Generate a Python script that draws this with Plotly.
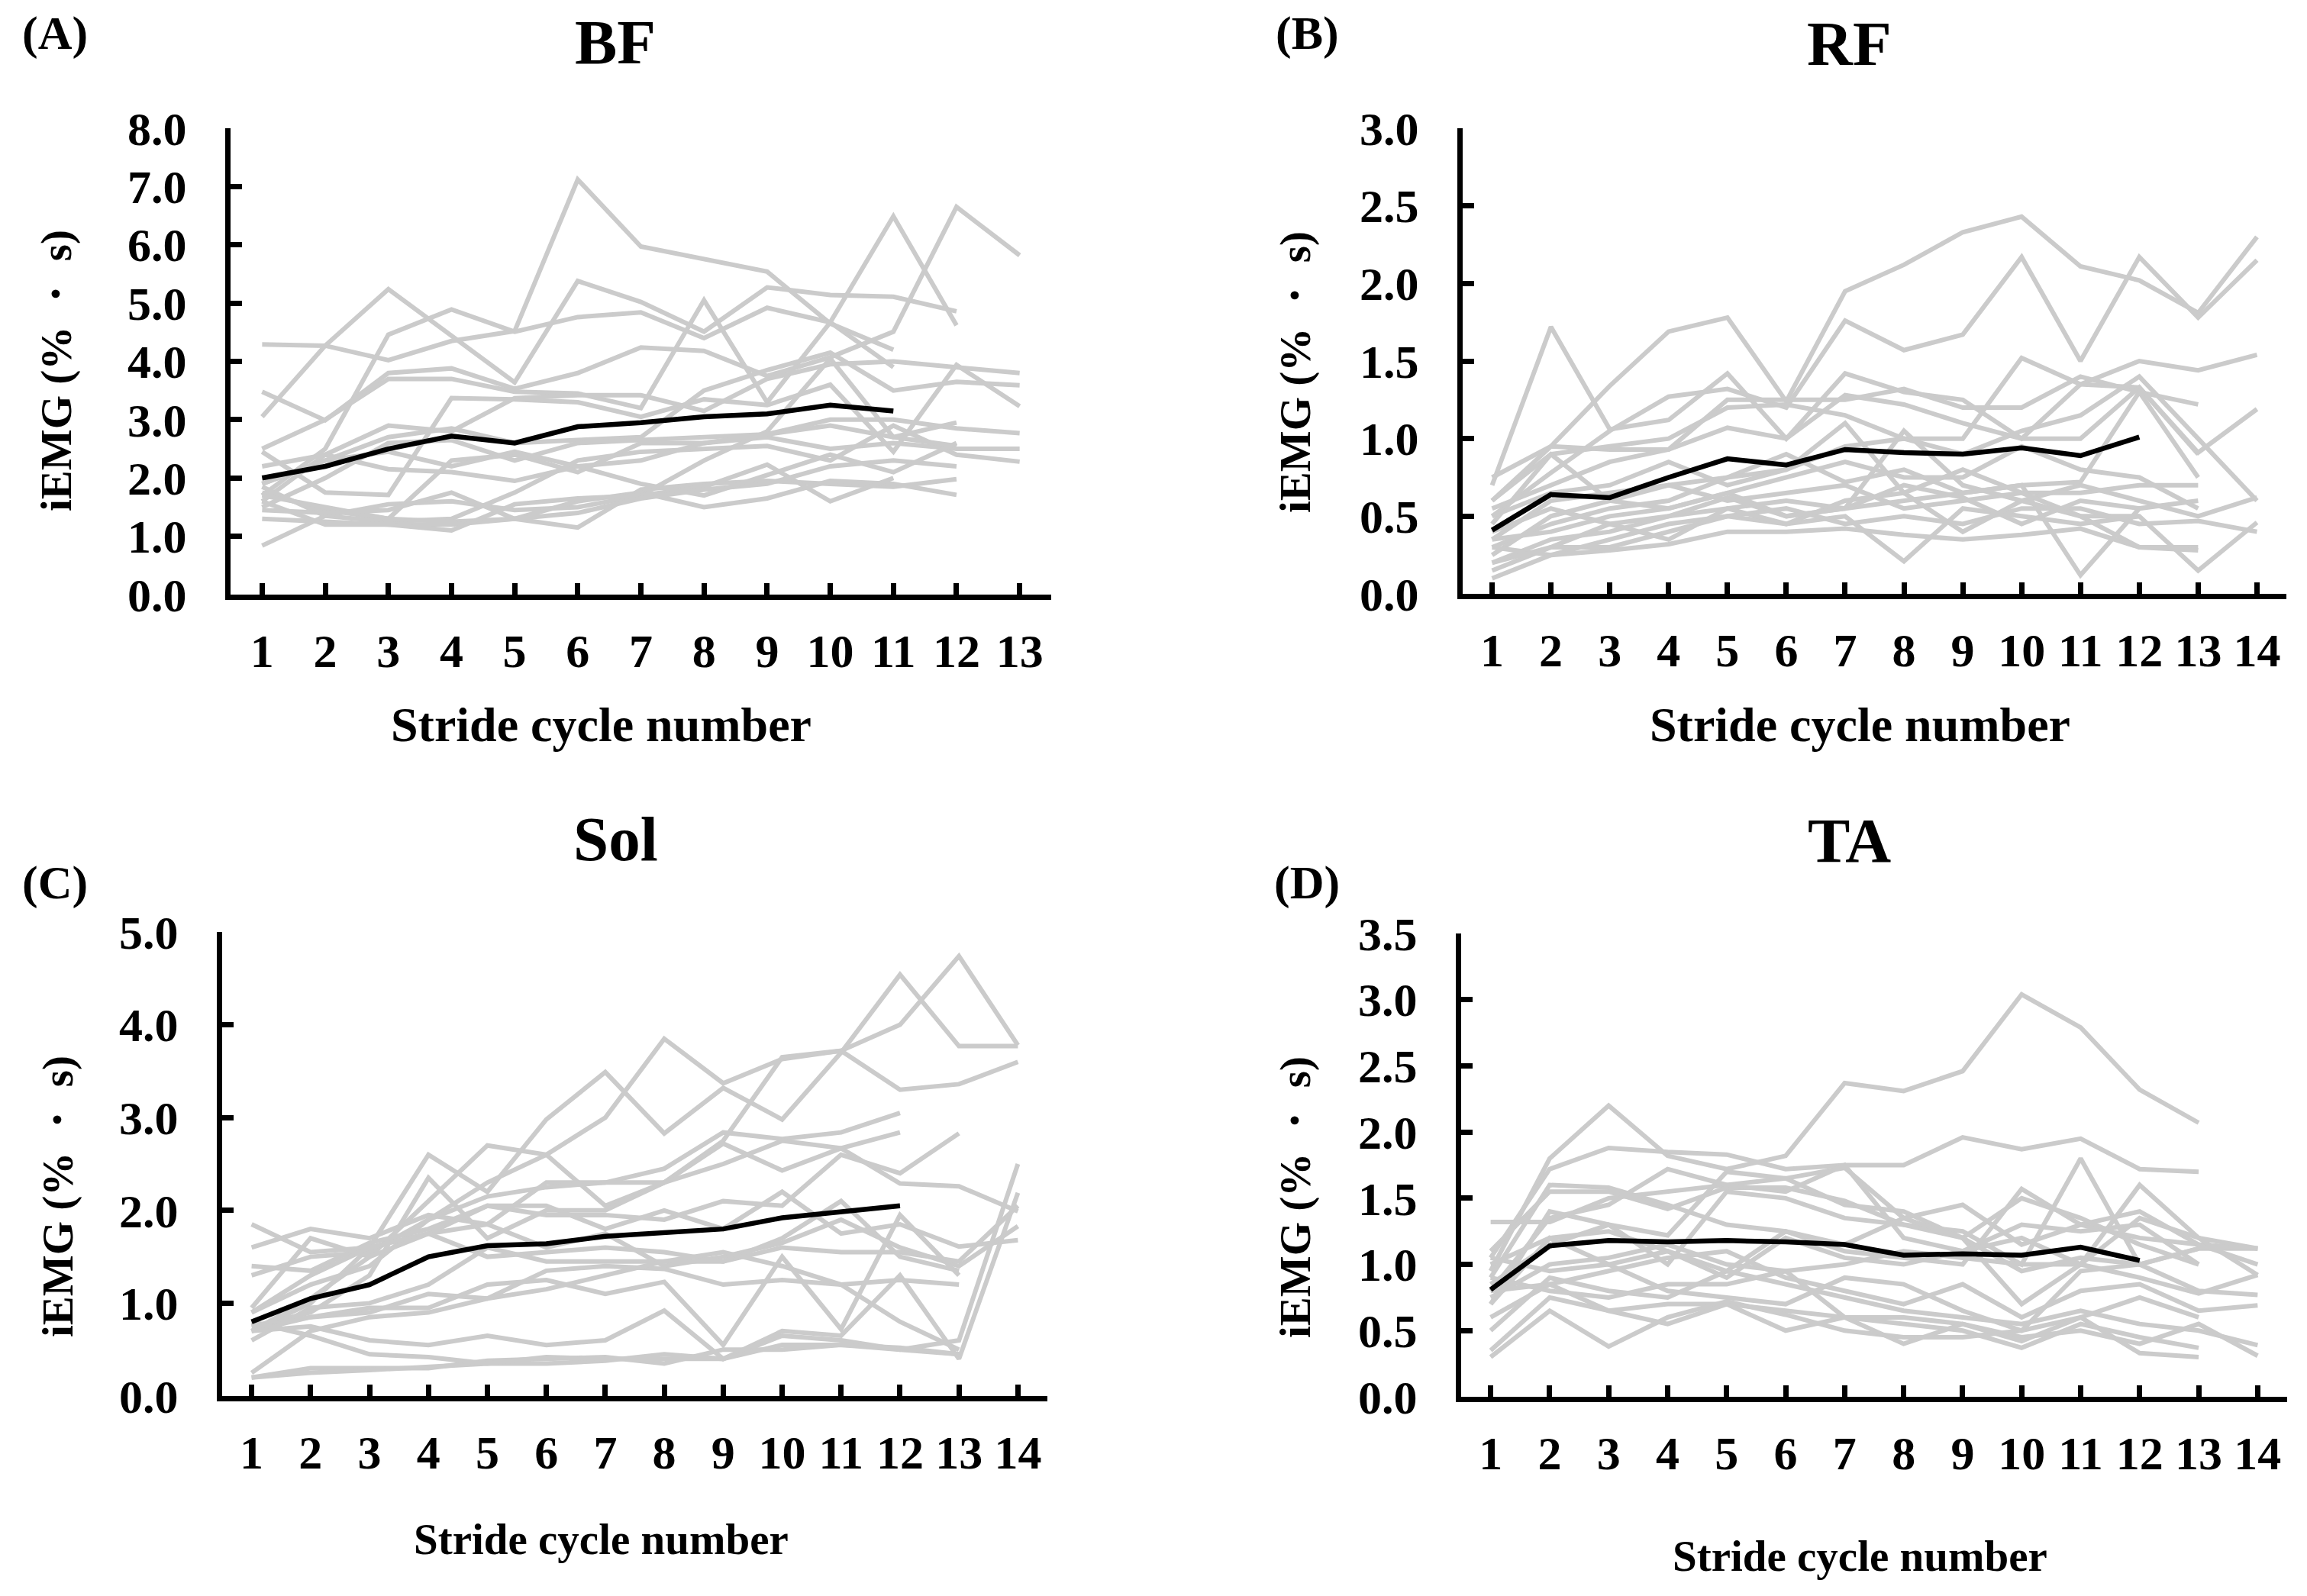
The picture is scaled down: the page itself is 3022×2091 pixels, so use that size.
import plotly.graph_objects as go

W, H = 3022, 2091
GRAY = '#cbcbcb'
FONT = 'Liberation Serif'

# ---------------- data ----------------
stride_cycles_13 = list(range(1, 14))
stride_cycles_14 = list(range(1, 15))

bf_subjects = [
    [4.29, 4.27, 4.02, 4.35, 4.52, 7.12, 5.97, 5.75, 5.54, 4.65, 4.2],
    [3.05, 4.27, 5.24, 4.45, 3.64, 5.38, 5.02, 4.51, 5.27, 5.14, 5.11, 4.86],
    [1.7, 2.5, 4.46, 4.89, 4.51, 4.76, 4.84, 4.4, 4.92, 4.67, 3.9],
    [3.48, 2.99, 3.8, 3.88, 3.53, 3.8, 4.24, 4.18, 3.75, 4.07, 4.51, 6.65, 5.82],
    [2.5, 3.0, 3.7, 3.7, 3.48, 3.45, 3.2, 5.05, 3.3, 4.67, 6.49, 4.62],
    [1.6, 2.4, 2.9, 2.8, 3.37, 3.42, 3.42, 3.15, 3.7, 3.95, 4.0, 3.9, 3.8],
    [2.45, 1.75, 1.71, 3.37, 3.35, 3.3, 3.05, 3.35, 3.25, 3.6, 2.45, 3.94, 3.23],
    [1.9, 2.3, 2.7, 2.85, 2.6, 2.65, 2.7, 3.5, 3.85, 4.15, 3.5, 3.65, 3.59],
    [1.5, 2.0, 2.6, 2.65, 2.3, 2.6, 2.65, 2.7, 2.75, 3.0, 3.0, 2.85, 2.77],
    [1.75, 1.45, 1.3, 2.3, 2.4, 2.1, 2.6, 2.6, 2.7, 2.5, 2.6, 2.5, 2.5],
    [1.85, 1.35, 1.25, 1.3, 1.75, 2.3, 2.45, 2.5, 2.55, 2.3, 2.9, 2.4, 2.28],
    [0.84, 1.35, 1.55, 1.6, 1.45, 1.5, 1.7, 2.3, 2.8, 4.05, 2.7, 2.55],
    [1.7, 1.5, 1.3, 1.25, 1.3, 1.15, 1.8, 1.9, 1.95, 1.9, 1.85, 1.98],
    [1.3, 1.25, 1.2, 1.2, 1.3, 1.6, 1.75, 1.5, 1.65, 1.95, 1.9, 1.71],
    [1.6, 1.2, 1.2, 1.1, 1.55, 1.65, 1.7, 1.85, 2.23, 1.6, 2.0],
    [1.45, 1.4, 1.45, 1.75, 1.3, 1.4, 1.65, 1.8, 1.9, 2.2, 2.3, 2.2],
    [2.2, 2.4, 2.15, 2.1, 1.95, 2.2, 1.9, 1.7, 2.05, 2.4, 2.1, 2.6],
    [1.9, 2.3, 2.45, 2.2, 2.45, 2.2, 2.3, 2.6, 2.75, 2.9, 2.7, 2.95],
]
bf_mean = [2.0, 2.2, 2.5, 2.72, 2.6, 2.88, 2.95, 3.05, 3.1, 3.25, 3.15]

rf_subjects = [
    [0.6, 0.95, 1.34, 1.69, 1.78, 1.24, 1.95, 2.12, 2.33, 2.43, 2.11, 2.02, 1.81, 2.3],
    [0.5, 0.78, 1.05, 1.27, 1.32, 1.2, 1.76, 1.57, 1.67, 2.17, 1.5, 2.17, 1.78, 2.15],
    [0.7, 1.72, 1.06, 1.12, 1.42, 1.0, 1.42, 1.3, 1.25, 1.0, 1.35, 1.5, 1.44, 1.54],
    [0.75, 0.95, 0.93, 0.93, 1.25, 1.25, 1.25, 1.32, 1.2, 1.2, 1.4, 1.3, 1.22],
    [0.45, 0.9, 0.95, 1.0, 1.2, 1.22, 1.15, 1.0, 1.0, 1.52, 1.35, 1.33, 0.9],
    [0.55, 0.7, 0.85, 0.93, 1.07, 1.0, 1.28, 1.22, 1.1, 1.0, 1.0, 1.33, 0.91, 1.19],
    [0.35, 0.6, 0.65, 0.7, 0.75, 0.8, 0.95, 1.0, 0.9, 1.05, 1.15, 1.4, 1.0, 0.6],
    [0.3, 0.45, 0.55, 0.6, 0.75, 0.9, 0.72, 0.8, 0.65, 0.7, 0.72, 1.3, 0.75],
    [0.25, 0.5, 0.6, 0.7, 0.6, 0.65, 0.7, 0.55, 0.6, 0.65, 0.65, 0.7, 0.7],
    [0.2, 0.35, 0.4, 0.5, 0.55, 0.6, 0.55, 0.6, 0.65, 0.7, 0.12, 0.55, 0.6],
    [0.15, 0.3, 0.3, 0.4, 0.5, 0.45, 0.5, 0.21, 0.55, 0.5, 0.45, 0.5, 0.15, 0.46],
    [0.3, 0.25, 0.35, 0.45, 0.5, 0.55, 0.45, 0.5, 0.45, 0.55, 0.55, 0.45, 0.47, 0.4],
    [0.4, 0.55, 0.45, 0.35, 0.55, 0.45, 0.6, 0.65, 0.4, 0.6, 0.7, 0.6, 0.5, 0.62],
    [0.6, 0.9, 0.6, 0.55, 0.65, 0.75, 0.85, 0.75, 0.75, 0.95, 0.8, 0.75, 0.55],
    [0.1, 0.25, 0.28, 0.32, 0.4, 0.4, 0.42, 0.38, 0.35, 0.38, 0.42, 0.3, 0.3],
    [0.2, 0.3, 0.45, 0.5, 0.62, 0.5, 0.55, 0.7, 0.62, 0.45, 0.6, 0.55],
    [0.5, 0.65, 0.7, 0.85, 0.7, 0.8, 1.1, 0.65, 0.8, 0.65, 0.5, 0.5],
    [0.35, 0.4, 0.5, 0.55, 0.65, 0.5, 0.55, 1.05, 0.7, 0.6, 0.5, 0.3, 0.28],
]
rf_mean = [0.41, 0.64, 0.62, 0.75, 0.87, 0.83, 0.93, 0.91, 0.9, 0.94, 0.89, 1.01]

sol_subjects = [
    [0.7, 1.0, 1.6, 2.6, 2.2, 2.98, 3.49, 2.83, 3.32, 2.98, 3.7, 4.54, 3.77, 3.77],
    [0.9, 1.2, 1.4, 1.9, 2.3, 2.6, 3.0, 3.85, 3.37, 3.63, 3.72, 4.0, 4.74, 3.78],
    [0.7, 1.05, 1.5, 2.1, 2.7, 2.6, 2.05, 2.3, 2.75, 3.65, 3.72, 3.3, 3.36, 3.6],
    [1.6, 1.8, 1.7, 1.95, 1.85, 2.3, 2.3, 2.45, 2.84, 2.77, 2.84, 3.05],
    [0.75, 0.9, 1.3, 2.35, 1.7, 2.0, 2.0, 2.3, 2.72, 2.43, 2.67, 2.84],
    [1.3, 1.5, 1.55, 1.9, 2.15, 2.25, 2.3, 2.3, 2.5, 2.75, 2.67, 2.29, 2.26, 1.99],
    [1.85, 1.55, 1.6, 1.75, 2.05, 1.95, 1.95, 1.9, 2.1, 2.05, 2.6, 2.4, 2.83],
    [1.4, 1.35, 1.65, 1.8, 2.05, 2.05, 1.8, 2.0, 1.8, 2.2, 1.75, 1.85, 1.61, 1.68],
    [0.9, 1.3, 1.6, 1.75, 1.85, 1.6, 1.75, 1.4, 1.5, 1.65, 1.9, 1.6, 1.4, 1.83],
    [0.95, 1.7, 1.5, 1.75, 1.5, 1.55, 1.6, 1.55, 1.45, 1.6, 1.55, 1.55, 1.45, 2.05],
    [0.6, 0.95, 1.0, 1.2, 1.6, 1.45, 1.45, 1.45, 1.45, 1.7, 2.1, 1.5, 1.35],
    [0.75, 0.85, 0.9, 1.1, 1.05, 1.35, 1.4, 1.37, 1.2, 1.25, 1.2, 1.25, 1.2],
    [0.7, 0.85, 0.95, 0.95, 1.2, 1.25, 1.1, 1.23, 0.55, 1.5, 0.72, 1.95, 1.3],
    [0.25, 0.7, 0.85, 0.9, 1.05, 1.15, 1.3, 1.45, 1.55, 1.4, 1.2, 0.8, 0.5],
    [0.2, 0.3, 0.3, 0.3, 0.38, 0.4, 0.42, 0.35, 0.5, 0.5, 0.55, 0.52, 0.45],
    [0.2, 0.25, 0.28, 0.32, 0.35, 0.35, 0.38, 0.45, 0.4, 0.65, 0.6, 0.5, 0.6, 2.5],
    [0.7, 0.75, 0.6, 0.55, 0.65, 0.55, 0.6, 0.92, 0.4, 0.7, 0.65, 1.3, 0.4, 2.19],
    [0.8, 0.65, 0.45, 0.42, 0.35, 0.42, 0.4, 0.4, 0.4, 0.55, 0.55, 0.5, 0.45],
]
sol_mean = [0.8, 1.05, 1.2, 1.5, 1.62, 1.64, 1.72, 1.76, 1.8, 1.92, 1.98, 2.05]

ta_subjects = [
    [0.95, 1.8, 2.2, 1.82, 1.72, 1.82, 2.37, 2.31, 2.46, 3.04, 2.79, 2.32, 2.07],
    [1.05, 1.72, 1.88, 1.85, 1.83, 1.72, 1.75, 1.75, 1.96, 1.87, 1.95, 1.72, 1.7],
    [1.32, 1.32, 1.5, 1.55, 1.6, 1.65, 1.73, 1.35, 1.45, 1.15, 1.3, 1.2, 1.15, 1.12],
    [0.9, 1.6, 1.58, 1.45, 1.3, 1.25, 1.1, 1.05, 1.0, 1.57, 1.3, 1.4, 1.15, 1.0],
    [1.1, 1.55, 1.55, 1.42, 1.58, 1.58, 1.48, 1.3, 1.25, 1.0, 1.8, 1.0, 0.8, 0.77],
    [0.7, 1.4, 1.3, 1.22, 1.7, 1.65, 1.45, 1.4, 1.2, 0.7, 1.0, 1.6, 1.2, 0.92],
    [0.8, 1.35, 1.45, 1.72, 1.6, 1.55, 1.75, 1.2, 1.1, 1.3, 1.25, 1.3, 1.0],
    [0.85, 1.15, 1.3, 1.0, 1.55, 1.5, 1.35, 1.3, 1.2, 1.5, 1.35, 1.15, 1.0],
    [1.0, 1.2, 1.25, 1.1, 0.9, 1.2, 1.05, 1.0, 1.1, 1.2, 1.0, 1.35, 1.2, 1.12],
    [0.75, 1.0, 1.05, 1.15, 1.0, 0.95, 1.0, 1.1, 1.05, 1.0, 1.0, 0.9, 0.78, 0.92],
    [0.6, 0.85, 0.95, 1.05, 1.1, 0.9, 0.8, 0.7, 0.85, 0.6, 0.8, 0.85, 0.65, 0.69],
    [0.5, 0.9, 0.8, 0.75, 0.95, 0.85, 0.75, 0.65, 0.6, 0.55, 0.65, 0.55, 0.5, 0.39],
    [0.35, 0.75, 0.65, 0.7, 0.7, 0.65, 0.6, 0.55, 0.5, 0.37, 0.55, 0.45, 0.37],
    [0.3, 0.65, 0.38, 0.6, 0.72, 0.62, 0.5, 0.45, 0.45, 0.5, 0.6, 0.33, 0.3],
    [0.8, 0.85, 0.65, 0.55, 0.7, 0.5, 0.6, 0.6, 0.55, 0.45, 0.5, 0.4, 0.55, 0.31],
    [0.9, 0.8, 0.75, 0.85, 0.85, 0.95, 0.6, 0.4, 0.55, 0.42, 0.6, 0.75, 0.6],
    [1.05, 0.95, 1.0, 0.8, 0.75, 0.7, 0.9, 0.85, 0.65, 0.5, 0.95, 1.0, 1.12],
    [0.7, 1.2, 1.0, 1.1, 0.95, 1.25, 1.15, 1.35, 1.2, 0.95, 1.05, 1.0, 1.12, 1.12],
]
ta_mean = [0.81, 1.14, 1.18, 1.17, 1.18, 1.17, 1.15, 1.07, 1.08, 1.07, 1.13, 1.03]

bf_yticks = [0, 1, 2, 3, 4, 5, 6, 7, 8]
rf_yticks = [0, 0.5, 1.0, 1.5, 2.0, 2.5, 3.0]
sol_yticks = [0, 1, 2, 3, 4, 5]
ta_yticks = [0, 0.5, 1.0, 1.5, 2.0, 2.5, 3.0, 3.5]

panel_letters = ['(A)', '(B)', '(C)', '(D)']
muscle_names = ['BF', 'RF', 'Sol', 'TA']
x_title = 'Stride cycle number'
y_title = 'iEMG (% ・ s)'

# ---------------- layout geometry (target pixels on the page) ----------------
PAGE_OFFSET = 8  # default body margin of the html page


def px(x):
    return (x - PAGE_OFFSET) / W


def py(y):
    return 1 - (y - PAGE_OFFSET) / H


panels = [
    dict(subjects=bf_subjects, mean=bf_mean, cats=stride_cycles_13, yticks=bf_yticks,
         x0=302, x1=1377, ytop=168, ybot=779),
    dict(subjects=rf_subjects, mean=rf_mean, cats=stride_cycles_14, yticks=rf_yticks,
         x0=1916, x1=2995, ytop=168, ybot=778),
    dict(subjects=sol_subjects, mean=sol_mean, cats=stride_cycles_14, yticks=sol_yticks,
         x0=291, x1=1372, ytop=1221, ybot=1829),
    dict(subjects=ta_subjects, mean=ta_mean, cats=stride_cycles_14, yticks=ta_yticks,
         x0=1914, x1=2996, ytop=1223, ybot=1830),
]

fig = go.Figure()
layout = dict(
    width=W, height=H, autosize=False,
    margin=dict(l=0, r=0, t=0, b=0, pad=0, autoexpand=False),
    paper_bgcolor='white', plot_bgcolor='white',
    showlegend=False,
)

tickfont = dict(family=FONT, size=62, color='black', weight='bold')

for i, p in enumerate(panels):
    n = i + 1
    xa = 'x' if n == 1 else f'x{n}'
    ya = 'y' if n == 1 else f'y{n}'
    for s in p['subjects']:
        fig.add_trace(go.Scatter(
            x=p['cats'][:len(s)], y=s, mode='lines',
            line=dict(color=GRAY, width=6), xaxis=xa, yaxis=ya, hoverinfo='skip'))
    fig.add_trace(go.Scatter(
        x=p['cats'][:len(p['mean'])], y=p['mean'], mode='lines',
        line=dict(color='black', width=6.5), xaxis=xa, yaxis=ya))

    ncat = len(p['cats'])
    xkey = 'xaxis' if n == 1 else f'xaxis{n}'
    ykey = 'yaxis' if n == 1 else f'yaxis{n}'
    layout[xkey] = dict(
        domain=[px(p['x0']), px(p['x1'])], anchor=ya, automargin=False,
        range=[0.5, ncat + 0.5], tickmode='array', tickvals=p['cats'],
        ticktext=[str(c) for c in p['cats']],
        showline=True, linecolor='black', linewidth=7,
        ticks='inside', ticklen=15, tickwidth=7, tickcolor='black',
        showgrid=False, zeroline=False, tickfont=tickfont,
        ticklabelstandoff=14,
    )
    layout[ykey] = dict(
        domain=[py(p['ybot']), py(p['ytop'])], anchor=xa, automargin=False,
        range=[0, p['yticks'][-1]], tickmode='array', tickvals=p['yticks'],
        ticktext=[f'{v:.1f}' for v in p['yticks']],
        showline=True, linecolor='black', linewidth=7,
        ticks='inside', ticklen=15, tickwidth=7, tickcolor='black',
        showgrid=False, zeroline=False, tickfont=tickfont,
        ticklabelstandoff=38,
    )


def ann(text, x, y, size, angle=0):
    return dict(text=text, x=px(x), y=py(y), xref='paper', yref='paper',
                xanchor='center', yanchor='middle', showarrow=False,
                textangle=angle,
                font=dict(family=FONT, size=size, color='black', weight='bold'))


annotations = [
    ann(panel_letters[0], 72, 44, 62),
    ann(panel_letters[1], 1712, 44, 62),
    ann(panel_letters[2], 72, 1156, 62),
    ann(panel_letters[3], 1712, 1156, 62),
    ann(muscle_names[0], 806, 55, 83),
    ann(muscle_names[1], 2422, 57, 83),
    ann(muscle_names[2], 806, 1099, 83),
    ann(muscle_names[3], 2422, 1101, 83),
    ann(x_title, 788, 950, 64),
    ann(x_title, 2436, 950, 64),
    ann(x_title, 788, 2016, 57),
    ann(x_title, 2436, 2038, 57),
    ann(y_title, 74, 486, 57, -90),
    ann(y_title, 1697, 488, 57, -90),
    ann(y_title, 76, 1568, 57, -90),
    ann(y_title, 1697, 1569, 57, -90),
]
layout['annotations'] = annotations
fig.update_layout(**layout)

fig.write_html('out.html')
